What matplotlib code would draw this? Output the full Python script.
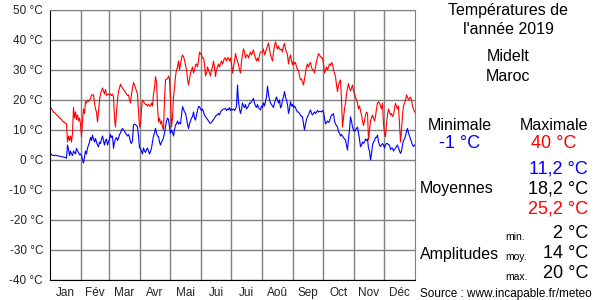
import numpy as np
import matplotlib
matplotlib.use("Agg")
import matplotlib.pyplot as plt

plt.rcParams['font.family'] = ['Liberation Sans', 'DejaVu Sans']

months = ['Jan', 'Fév', 'Mar', 'Avr', 'Mai', 'Jui', 'Jui', 'Aoû', 'Sep', 'Oct', 'Nov', 'Déc']
month_days = [31, 28, 31, 30, 31, 30, 31, 31, 30, 31, 30, 31]
y_ticks = [50, 40, 30, 20, 10, 0, -10, -20, -30, -40]

# daily maxima (red)
tmax = [
    # Jan
    17.6, 17, 16.5, 16, 15.8, 15.5, 15, 14.8, 14.5, 14, 13.8, 13.5, 13, 12.8, 12.5, 12.2,
    12, 6, 8, 6.5, 8, 6, 9, 17.5, 14, 16, 13.5, 15, 13, 14, 12,
    # Fév
    7.8, 13, 17, 15.5, 19.5, 19, 20, 19.5, 20, 20.5, 21.7, 21.7, 21.7, 19, 17, 16, 12.7,
    16, 20, 22, 23, 24, 23, 22, 23.5, 21.5, 22, 22,
    # Mar
    21.7, 22, 21.5, 22, 21, 14, 11, 16, 20, 23, 24, 25.3, 24.5, 24, 23.5, 23, 22.5, 22,
    21.5, 21.7, 20, 19, 22, 24, 25.8, 25, 24, 23, 22, 16, 11,
    # Avr
    12, 17, 20, 19.5, 19, 18.5, 18.5, 18, 18.5, 18, 18, 19, 18, 22, 24, 27.8, 26, 18,
    12.7, 14, 12, 13, 11, 10, 20, 26.7, 27, 27, 28, 27,
    # Mai
    20, 11, 14, 21, 24, 28, 30, 31, 33, 30, 32, 34, 35, 34.5, 33.3, 31.7, 30, 27, 25, 27,
    29, 30, 31, 29, 30, 31.7, 32, 31, 33, 36, 35.5,
    # Jui
    35, 34, 34, 32, 28, 29, 31, 30, 29, 28, 30, 31, 33, 31, 27.8, 30, 31, 32, 31, 32, 33,
    32, 33, 34, 34, 33, 34, 34, 33, 34,
    # Jui
    32, 29, 31, 33, 35.5, 34, 33, 31.7, 30, 29, 33, 35, 37, 36, 34, 35, 35, 34, 35, 36, 35,
    36, 36.7, 35, 34, 33, 34, 33, 35, 36, 36,
    # Aoû
    36, 37, 35, 36, 37, 38, 39, 37, 35, 34, 33, 36, 38, 39.4, 38, 37, 38, 37, 36.7, 37, 36,
    38, 38.9, 37, 36, 35, 32, 34, 35, 33, 31.7,
    # Sep
    33, 32, 32.5, 31, 30, 30, 28, 26.7, 27, 26, 25, 27, 29, 31, 32, 31, 32, 32.5, 31, 30,
    30, 29, 31, 33, 34, 35.5, 35, 34.5, 34, 34,
    # Oct
    32, 29, 30, 31, 30, 31, 32, 31.5, 32.5, 32, 30, 29, 27.8, 25, 22.8, 25, 26, 26.7, 20,
    11, 14, 17, 18.9, 22, 24, 25.5, 24, 23, 24, 25, 23,
    # Nov
    22, 21, 20, 19, 17, 18, 16.5, 15, 13, 11.5, 13, 15, 16, 15.5, 6.7, 10, 13, 14, 15, 14,
    13, 14.5, 17, 19, 19.4, 19, 18, 17, 19, 12,
    # Déc
    9, 7.8, 12, 15, 17, 16, 15, 15.5, 14.5, 15, 17, 18.9, 18, 17, 18, 12, 6, 10, 15, 18,
    19, 20, 21.7, 21, 20, 20.5, 21, 20, 18, 17, 16,
]

# daily minima (blue)
tmin = [
    # Jan
    2.2, 1.8, 1.5, 1.5, 1.5, 1.6, 1.5, 1.4, 1.3, 1.3, 1.2, 1.1, 1, 1, 0.9, 0.8, 0.6, 5,
    3.5, 1.5, 3, 2, 1.5, 3, 2.5, 2, 3.9, 3, 2.5, 1.7, 2,
    # Fév
    1.5, 0, -1, 1, 3, 2, 3.9, 5, 6, 7.5, 6.5, 8.3, 7, 6, 7.2, 6, 5, 4.4, 6, 5.5, 7, 8, 6.5,
    5, 6.5, 7, 5, 6,
    # Mar
    7, 8.5, 7.5, 8, 3.9, 6, 7, 7.5, 6.5, 7.2, 8.5, 9, 10, 10.5, 10, 9.5, 9, 8.5, 8, 8.5,
    7.5, 6, 5.5, 6.5, 11.7, 12, 11.8, 11.5, 11, 8, 4,
    # Avr
    3.9, 3, 2, 4, 3, 2.5, 3.5, 4, 3, 2, 2.8, 4, 6, 8, 9, 10.5, 9, 8, 7.8, 6, 5, 6, 6.5,
    7.5, 9, 11, 13, 14, 13.5, 11,
    # Mai
    8.9, 10, 9.4, 8, 10, 11.7, 12, 13, 12, 12.5, 12, 15, 17.8, 17, 16, 15.6, 14, 12, 10.5,
    12, 13, 14, 14.4, 16, 14, 13.3, 15, 16.5, 17.8, 17.8, 17,
    # Jui
    16.5, 17, 16, 15, 14.4, 14, 13.5, 13, 12.5, 12.2, 12.5, 13, 13.5, 14, 14.5, 15, 15,
    15.5, 15, 16, 16.5, 16.7, 17, 17, 17.2, 16.5, 17, 16.7, 17.5, 16.5,
    # Jui
    17, 16.7, 17, 16.5, 17, 18, 25, 19.4, 17, 15.5, 17, 19, 18, 17.5, 18.5, 17, 17.5, 18,
    19, 18.9, 19.5, 20, 20.5, 19, 18, 17.5, 18.5, 17.5, 17, 16.7, 18,
    # Aoû
    17.5, 19, 18, 19.5, 21, 24.6, 22, 20, 19, 18.5, 18, 17.5, 19, 20, 21, 20, 19, 20, 17.4,
    18, 20, 21, 22.8, 21, 20, 18.5, 15.5, 17, 19.4, 18, 18.5,
    # Sep
    17.5, 18, 17.5, 16.5, 16, 16, 15.5, 15, 14.5, 14.4, 12, 10, 12, 13.5, 14.5, 15, 16,
    16.7, 15.5, 15, 15.5, 16, 15.5, 16, 16.5, 16, 16.2, 16.2, 16, 16.5,
    # Oct
    16, 14, 12, 12.5, 13, 12.5, 13, 14, 15, 15, 15.5, 13, 12, 11.5, 11, 9.4, 9, 8, 8.5, 8,
    7.5, 7, 6.7, 5, 3.3, 7, 10, 14.4, 13, 11, 10,
    # Nov
    9.5, 10, 10.5, 11, 9, 7, 4.4, 5, 6, 5.5, 6, 7, 6.5, 7, 4, 3, 0, 2, 5, 6, 6.5, 7.5, 7.5,
    8.3, 6, 5, 4.5, 5, 5.5, 5,
    # Déc
    4, 5, 5.5, 5.5, 5, 5, 3.5, 4, 4, 3, 3.5, 4, 4.5, 5, 4, 3, 2.2, 3, 5, 6.5, 7, 8, 9.5,
    10.5, 9, 8, 7, 6, 5, 4.5, 5,
]

W, H = 600, 300
fig = plt.figure(figsize=(6, 3), dpi=100)
ax = fig.add_axes([50 / W, 20 / H, 365 / W, 270 / H])

days = np.arange(len(tmax)) + 0.5
ax.plot(days, tmax, color='#ff0000', lw=0.8)
ax.plot(days, tmin, color='#0000ff', lw=0.8)

ax.set_xlim(0, 365)
ax.set_ylim(-40, 50)

starts = np.concatenate([[0], np.cumsum(month_days)])
ax.set_xticks(starts[1:-1])
ax.set_xticklabels([])
ax.set_xticks((starts[:-1] + starts[1:]) / 2, minor=True)
ax.set_xticklabels(months, minor=True, fontsize=8.5)
ax.set_yticks(y_ticks)
ax.set_yticklabels(['%d °C' % v for v in y_ticks], fontsize=8.5)
ax.tick_params(which='both', length=0, pad=5, colors='#222222')
ax.grid(True, which='major', color='#808080', lw=1.0)
ax.axhline(50, color='#808080', lw=1.2)
for s in ['top', 'right']:
    ax.spines[s].set_color('#808080')
ax.spines['left'].set_color('black')
ax.spines['bottom'].set_color('black')


def put(x, y, s, size=11.5, color='black', ha='center'):
    fig.text(x / W, 1 - y / H, s, fontsize=size, color=color, ha=ha, va='center')


put(508, 10, 'Températures de')
put(508, 30, "l'année 2019")
put(508, 57, 'Midelt')
put(508, 77, 'Maroc')
put(460, 125, 'Minimale')
put(554, 125, 'Maximale')
put(460, 144, '-1 °C', size=13, color='#0000ff')
put(554, 144, '40 °C', size=13, color='#ff0000')
put(588, 169, '11,2 °C', size=13, color='#0000ff', ha='right')
put(588, 189, '18,2 °C', size=13, ha='right')
put(588, 209, '25,2 °C', size=13, color='#ff0000', ha='right')
put(420, 189, 'Moyennes', ha='left')
put(505, 237, 'min.', size=7.5, ha='left')
put(505, 257, 'moy.', size=7.5, ha='left')
put(505, 277, 'max.', size=7.5, ha='left')
put(588, 233, '2 °C', size=13, ha='right')
put(588, 253, '14 °C', size=13, ha='right')
put(588, 273, '20 °C', size=13, ha='right')
put(420, 255, 'Amplitudes', ha='left')
put(420, 294, 'Source : www.incapable.fr/meteo', size=8.5, ha='left')

fig.savefig('out.png', dpi=100)
